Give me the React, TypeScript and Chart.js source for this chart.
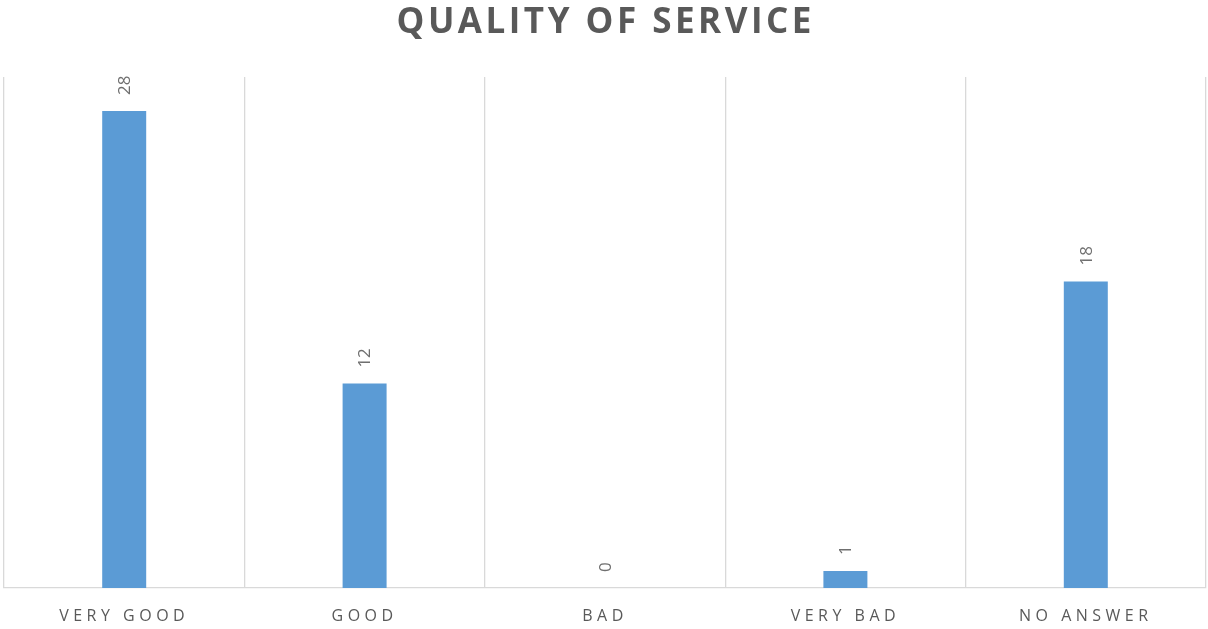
import React, { useEffect, useRef } from "react";
import { Chart, registerables } from "chart.js";

Chart.register(...registerables);

const TITLE = "QUALITY OF SERVICE";
const categories = ["VERY GOOD", "GOOD", "BAD", "VERY BAD", "NO ANSWER"];
const responses = [28, 12, 0, 1, 18];
const Y_MAX = 30;

const TEXT_COLOR = "#595959";
const GRID_COLOR = "#d9d9d9";
const BAR_COLOR = "#5B9BD5";

const spacingPlugin = {
  id: "spacingPlugin",
  beforeDraw(chart: any) {
    const ctx = chart.ctx;
    ctx.letterSpacing = "4.5px";
  },
  afterDatasetsDraw(chart: any) {
    const ctx = chart.ctx;
    const meta = chart.getDatasetMeta(0);
    const data = chart.data.datasets[0].data as number[];
    ctx.save();
    ctx.letterSpacing = "0px";
    ctx.font = '17px "Open Sans"';
    ctx.fillStyle = "#6f6f6f";
    ctx.textAlign = "left";
    ctx.textBaseline = "middle";
    meta.data.forEach((bar: any, i: number) => {
      ctx.save();
      ctx.translate(bar.x + 1, bar.y - 16);
      ctx.rotate(-Math.PI / 2);
      ctx.fillText(String(data[i]), 0, 0);
      ctx.restore();
    });
    ctx.restore();
  },
  afterDraw(chart: any) {
    const ctx = chart.ctx;
    ctx.save();
    const sp = 3.5;
    ctx.letterSpacing = sp + "px";
    ctx.font = 'bold 35px "Open Sans"';
    ctx.fillStyle = TEXT_COLOR;
    ctx.textAlign = "center";
    ctx.textBaseline = "alphabetic";
    ctx.fillText(TITLE, chart.width / 2 + sp / 2, 33);
    ctx.restore();
    ctx.letterSpacing = "0px";
  },
};

export default function App() {
  const ref = useRef<HTMLCanvasElement | null>(null);
  useEffect(() => {
    if (!ref.current) return;
    const chart = new Chart(ref.current, {
      type: "bar",
      data: {
        labels: categories,
        datasets: [
          {
            data: responses,
            backgroundColor: BAR_COLOR,
            barPercentage: 0.183,
            categoryPercentage: 1,
          },
        ],
      },
      options: {
        animation: false,
        responsive: true,
        maintainAspectRatio: false,
        layout: { padding: { top: 77, left: 4, right: 2, bottom: 0 } },
        plugins: {
          legend: { display: false },
          title: { display: false },
          tooltip: { enabled: false },
        },
        scales: {
          x: {
            offset: true,
            afterFit: (scale: any) => {
              scale.height = 41;
            },
            grid: {
              display: true,
              offset: true,
              color: GRID_COLOR,
              lineWidth: 1.3,
              drawTicks: false,
              tickLength: 0,
            },
            border: { display: true, color: GRID_COLOR, width: 1.3 },
            ticks: {
              color: TEXT_COLOR,
              font: { family: "Open Sans", size: 16 },
              padding: 19,
              autoSkip: false,
              maxRotation: 0,
              minRotation: 0,
            },
          },
          y: {
            display: false,
            min: 0,
            max: Y_MAX,
          },
        },
      },
      plugins: [spacingPlugin],
    });
    return () => chart.destroy();
  }, []);
  return (
    <div style={{ position: "fixed", left: 0, top: 0, width: 1208, height: 629, background: "#fff" }}>
      <canvas ref={ref} style={{ display: "block" }} />
    </div>
  );
}
